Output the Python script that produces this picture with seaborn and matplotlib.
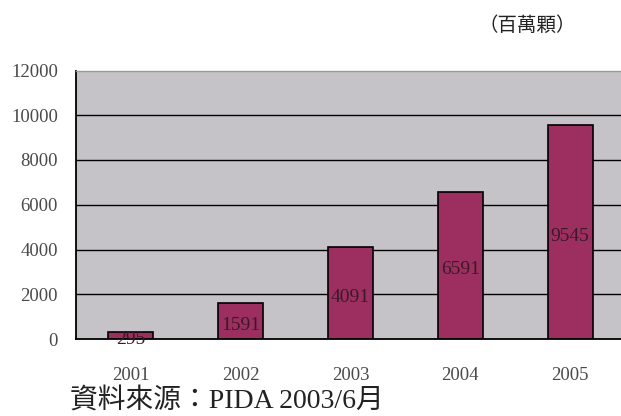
import matplotlib
matplotlib.use("Agg")
import matplotlib.pyplot as plt
import seaborn as sns
import pandas as pd
from matplotlib.ticker import FixedLocator

years = ["2001", "2002", "2003", "2004", "2005"]
values = [295, 1591, 4091, 6591, 9545]
yticks = [0, 2000, 4000, 6000, 8000, 10000, 12000]
unit_text = "（百萬顆）"
source_text = "資料來源：PIDA 2003/6月"

df = pd.DataFrame({"year": years, "value": values})

sns.set_theme(style="white")
serif = ["Liberation Serif", "Noto Sans CJK TC", "DejaVu Sans"]
plt.rcParams["font.family"] = serif

W, H = 621, 416
fig = plt.figure(figsize=(W / 100, H / 100), dpi=100)
fig.patch.set_facecolor("white")
ax = fig.add_axes([76 / W, 77 / H, 549 / W, 268.5 / H])
ax.set_facecolor("#C5C3C7")

sns.barplot(data=df, x="year", y="value", order=years, color="#9C2F5F",
            saturation=1, edgecolor="black", linewidth=1.2, width=0.41, ax=ax)

ax.set_xlim(-0.5, 4.5)
ax.set_ylim(0, 12000)
ax.set_yticks(yticks)
ax.set_yticklabels([str(t) for t in yticks])
ax.set_xlabel("")
ax.set_ylabel("")

ax.set_axisbelow(True)
ax.yaxis.grid(True, color="black", linewidth=1.0)
for gl in ax.get_ygridlines()[-1:]:
    gl.set_visible(False)
for gl in ax.get_ygridlines()[:1]:
    gl.set_visible(False)

for s in ["left", "bottom"]:
    ax.spines[s].set_color("black")
    ax.spines[s].set_linewidth(1.3)
ax.spines["top"].set_color("#9A9A9A")
ax.spines["top"].set_linewidth(1.0)
ax.spines["right"].set_visible(False)

ax.tick_params(axis="y", direction="in", length=5, color="black",
               labelsize=13.5, labelcolor="#4A4A4A", pad=13)
ax.tick_params(axis="x", which="major", length=0, labelsize=13.5,
               labelcolor="#4A4A4A", pad=20)
ax.xaxis.set_minor_locator(FixedLocator([0.5, 1.5, 2.5, 3.5]))
ax.tick_params(axis="x", which="minor", direction="in", length=6,
               color="black", width=1.2)

for i, v in enumerate(values):
    ax.annotate(str(v), xy=(i, v / 2), xytext=(0, -3), textcoords="offset points",
                ha="center", va="center", fontsize=14, color="#3A1A2A",
                family=serif)

fig.text(527 / W, 1 - 25 / H, unit_text, ha="center", va="center",
         fontsize=14, color="#222222", family=["Noto Sans CJK TC", "DejaVu Sans"])
fig.text(70 / W, 1 - 402 / H, source_text, ha="left", va="center",
         fontsize=20, color="#222222", family=serif)

fig.savefig("out.png", dpi=100, facecolor="white")
